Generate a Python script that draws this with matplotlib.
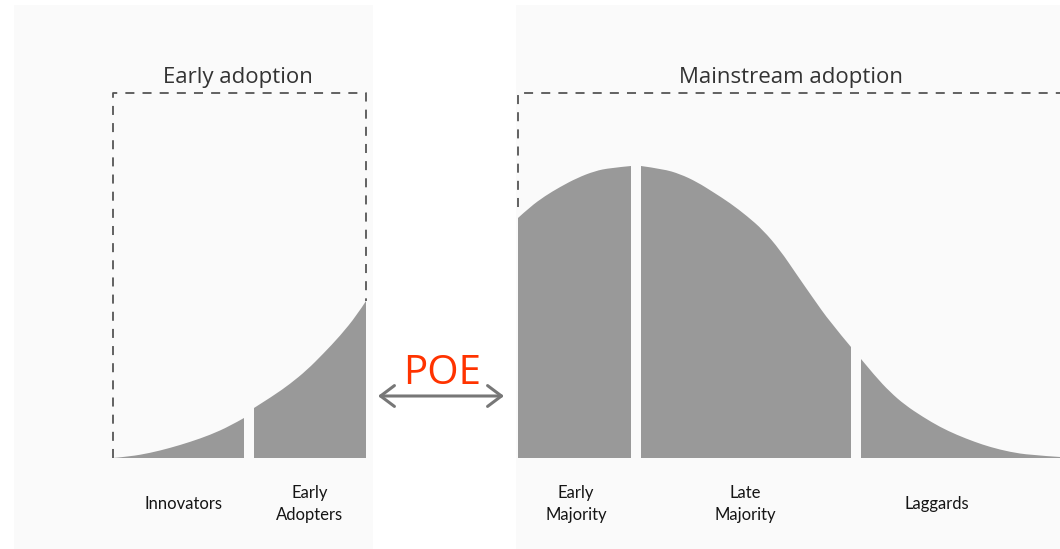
import matplotlib.pyplot as plt
from matplotlib.patches import Rectangle, PathPatch
from matplotlib.path import Path

# curve segments: x position and height above the baseline
inn_x = [113, 130, 150, 170, 190, 210, 230, 244]
inn_h = [0, 1.5, 5, 10, 16, 23, 32, 40]
ea_x = [254, 273, 290, 307, 323, 340, 357, 366]
ea_h = [50, 62, 74, 88, 104, 122, 143, 157]
em_x = [518, 530, 545, 560, 577, 595, 610, 631]
em_h = [240, 251, 262, 271, 280, 287, 290, 292]
lm_x = [641, 663, 680, 697, 713, 730, 747, 763, 780, 797, 813, 830, 851]
lm_h = [292, 289, 284, 276, 266, 255, 242, 228, 208, 183, 160, 136, 111]
lg_x = [861, 875, 890, 905, 923, 940, 957, 975, 990, 1010, 1030, 1060]
lg_h = [99, 82, 66, 53, 41, 31, 23, 16, 11, 6, 3, 1]

segments = [(inn_x, inn_h), (ea_x, ea_h), (em_x, em_h), (lm_x, lm_h), (lg_x, lg_h)]

labels = ['Innovators', 'Early\nAdopters', 'Early\nMajority', 'Late\nMajority', 'Laggards']
label_x = [183, 310, 576, 745, 937]

groups = ['Early adoption', 'Mainstream adoption']
group_x = [238, 791]


def smooth_area(xs, hs):
    # quadratic bezier through the midpoints, read points act as control points
    verts = [(xs[0], 0), (xs[0], hs[0])]
    codes = [Path.MOVETO, Path.LINETO]
    for i in range(1, len(xs) - 1):
        mx = (xs[i] + xs[i + 1]) / 2
        mh = (hs[i] + hs[i + 1]) / 2
        if i == len(xs) - 2:
            mx, mh = xs[-1], hs[-1]
        verts += [(xs[i], hs[i]), (mx, mh)]
        codes += [Path.CURVE3, Path.CURVE3]
    verts += [(xs[-1], 0), (xs[0], 0)]
    codes += [Path.LINETO, Path.CLOSEPOLY]
    return Path(verts, codes)


fig = plt.figure(figsize=(10.6, 5.49), dpi=100)
fig.patch.set_facecolor('white')
ax = fig.add_axes([0, 0, 1, 1])
ax.set_xlim(0, 1060)
ax.set_ylim(-91, 458)
ax.axis('off')

# light panels behind the two groups
ax.add_patch(Rectangle((14, -91), 359, 544, facecolor='#fafafa', edgecolor='none', zorder=0))
ax.add_patch(Rectangle((516, -91), 544, 544, facecolor='#fafafa', edgecolor='none', zorder=0))

for xs, hs in segments:
    ax.add_patch(PathPatch(smooth_area(xs, hs), facecolor='#999999',
                           edgecolor='none', zorder=2))

# dashed boxes
dash = dict(color='#555555', lw=1.3, linestyle=(0, (5, 4.5)), zorder=1)
ax.plot([113, 113, 366, 366], [0, 365, 365, 157], **dash)
ax.plot([518, 518, 1060], [251, 365, 365], **dash)

for g, gx in zip(groups, group_x):
    ax.text(gx, 381, g, ha='center', va='center', fontsize=16,
            family='Open Sans', color='#333333')

for lab, lx in zip(labels, label_x):
    ax.text(lx, -46, lab, ha='center', va='center', fontsize=12,
            family='Lato', color='#151515', linespacing=1.4)

# chasm arrow
ax.annotate('', xy=(378, 62), xytext=(504, 62),
            arrowprops=dict(arrowstyle='<->,head_length=1.0,head_width=0.75',
                            color='#777777', lw=2.2, shrinkA=0, shrinkB=0))
ax.text(442, 84, 'POE', ha='center', va='center', fontsize=29,
        family='Open Sans', color='#ff3300')

fig.savefig('out.png', dpi=100)
